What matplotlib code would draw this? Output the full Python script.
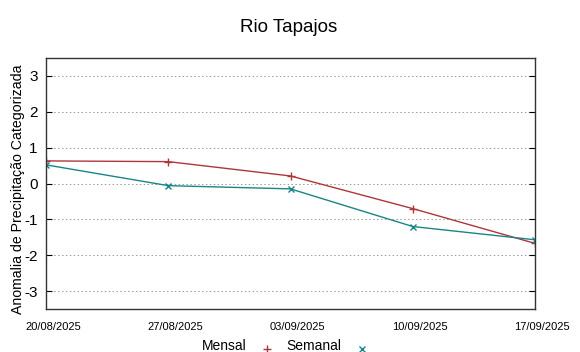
import matplotlib
matplotlib.use("Agg")
import matplotlib.pyplot as plt
import matplotlib.transforms as mtransforms

dates = ["20/08/2025", "27/08/2025", "03/09/2025", "10/09/2025", "17/09/2025"]
mensal = [0.63, 0.61, 0.21, -0.70, -1.67]
semanal = [0.52, -0.06, -0.15, -1.20, -1.57]
yticks = [-3, -2, -1, 0, 1, 2, 3]

plt.rcParams['font.family'] = ['Liberation Sans', 'DejaVu Sans']

fig = plt.figure(figsize=(5.8, 3.52), dpi=100)
ax = fig.add_axes([46/580, 1-309/352, (535-46)/580, (309-58)/352])

x = list(range(len(dates)))
red = '#b0353b'
teal = '#1b8585'
ax.plot(x, mensal, color=red, lw=1.0, marker='+', ms=6, mew=1.0)
ax.plot(x, semanal, color=teal, lw=1.0, marker='x', ms=5, mew=1.0)

ax.set_xlim(0, len(dates)-1)
ax.set_ylim(-3.5, 3.5)
ax.set_yticks(yticks)
ax.set_yticklabels([str(v) for v in yticks], fontsize=11)
ax.set_xticks(x)
ax.set_xticklabels([])
ax.tick_params(axis='x', length=0)
offset = mtransforms.ScaledTranslation(7/100, -18/100, fig.dpi_scale_trans)
trans = mtransforms.blended_transform_factory(ax.transData, ax.transAxes) + offset
for xi, d in zip(x, dates):
    ax.text(xi, 0, d, transform=trans, ha='center', va='center', fontsize=8, clip_on=False)
ax.tick_params(axis='y', direction='in', length=4, right=True, pad=6, width=0.8)
ax.grid(axis='y', color='#999999', linestyle=(0, (1.5, 2.5)), lw=0.7)
for s in ax.spines.values():
    s.set_color('#333333')
    s.set_linewidth(1.0)

fig.text(18/580, 1-189/352, "Anomalia de Precipitação Categorizada", rotation=90,
         ha='center', va='center', fontsize=10.2)
fig.text(289/580, 1-27/352, "Rio Tapajos", ha='center', va='center', fontsize=13.5)

# legend at bottom
fig.text(224/580, 1-350.5/352, "Mensal", ha='center', va='baseline', fontsize=10)
fig.text(314/580, 1-350.5/352, "Semanal", ha='center', va='baseline', fontsize=10)
fig.lines.append(plt.Line2D([267/580], [1-349/352], transform=fig.transFigure,
                            marker='+', color=red, ms=6, mew=1.0, ls='none'))
fig.lines.append(plt.Line2D([362/580], [1-349/352], transform=fig.transFigure,
                            marker='x', color=teal, ms=5, mew=1.0, ls='none'))

fig.savefig("out.png", dpi=100)
